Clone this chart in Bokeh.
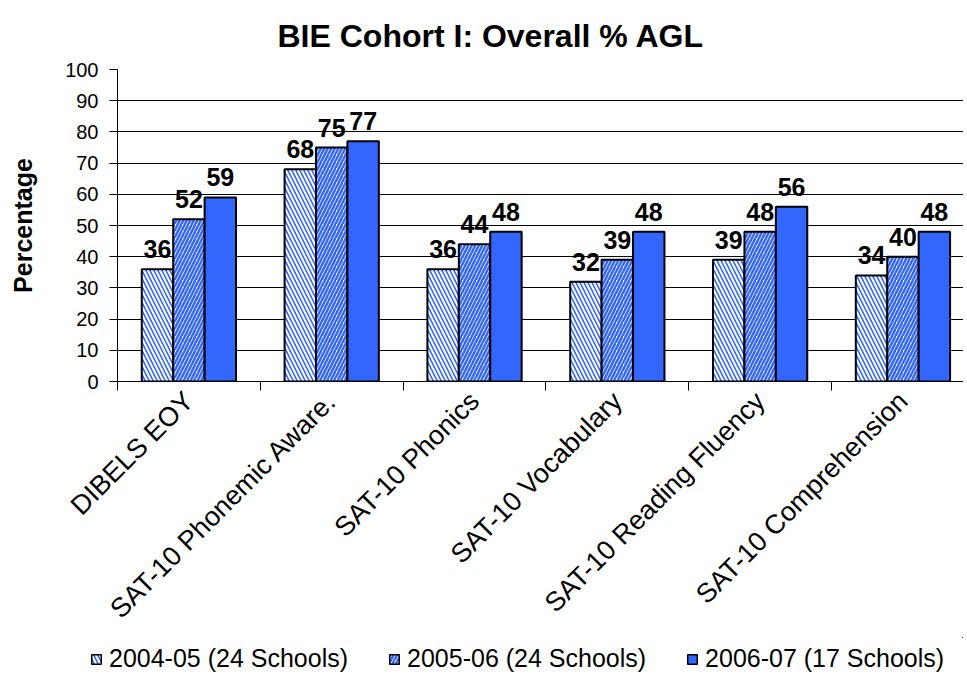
import math
from bokeh.plotting import figure
from bokeh.models import Range1d, FixedTicker, Legend, LegendItem, ColumnDataSource
from bokeh.core.properties import value
from bokeh.embed import file_html
from bokeh.resources import INLINE

# ---- data ----
title_text = "BIE Cohort I: Overall % AGL"
y_label = "Percentage"
categories = ["DIBELS EOY", "SAT-10 Phonemic Aware.", "SAT-10 Phonics",
              "SAT-10 Vocabulary", "SAT-10 Reading Fluency", "SAT-10 Comprehension"]
series_names = ["2004-05 (24 Schools)", "2005-06 (24 Schools)", "2006-07 (17 Schools)"]
v0405 = [36, 68, 36, 32, 39, 34]
v0506 = [52, 75, 44, 39, 48, 40]
v0607 = [59, 77, 48, 48, 56, 48]
y_ticks = [0, 10, 20, 30, 40, 50, 60, 70, 80, 90, 100]

FONT = "Liberation Sans"
BLUE = "#3366FF"
BAR_W = 0.22

centers = [i + 0.5 for i in range(len(categories))]

p = figure(frame_width=846, frame_height=312, output_backend="svg", toolbar_location=None,
           x_range=Range1d(0, 5.924), y_range=Range1d(0, 100),
           min_border_left=117, min_border_right=0, min_border_top=68,
           min_border_bottom=0)
p.outline_line_color = None
p.background_fill_color = "white"
p.border_fill_color = "white"

p.title.text = title_text
p.title.text_font = FONT
p.title.text_font_size = "32px"
p.title.text_font_style = "bold"
p.title.text_color = "black"
p.title.align = "left"
p.title.offset = 160
p.title.standoff = 31

# grid
p.xgrid.visible = False
p.ygrid.ticker = FixedTicker(ticks=y_ticks)
p.ygrid.grid_line_color = "black"
p.ygrid.grid_line_width = 1

# y axis
ya = p.yaxis[0]
ya.ticker = FixedTicker(ticks=y_ticks)
ya.axis_label = y_label
ya.axis_label_text_font = FONT
ya.axis_label_text_font_size = "25px"
ya.axis_label_text_font_style = "bold"
ya.axis_label_text_color = "black"
ya.axis_label_standoff = 25
ya.major_label_text_font = FONT
ya.major_label_text_font_size = "20px"
ya.major_label_text_color = "black"
ya.major_label_standoff = 11
ya.major_tick_out = 8
ya.major_tick_in = 0
ya.minor_tick_line_color = None
ya.axis_line_color = "black"
ya.major_tick_line_color = "black"

# x axis: labels at category centres, ticks at category boundaries
xa = p.xaxis[0]
xa.ticker = FixedTicker(ticks=centers, minor_ticks=list(range(len(categories) + 1)))
xa.major_label_overrides = {c: cat for c, cat in zip(centers, categories)}
xa.major_label_orientation = math.pi / 4
xa.major_label_text_font = FONT
xa.major_label_text_font_size = "27px"
xa.major_label_text_color = "black"
xa.major_label_standoff = 6
xa.major_tick_line_color = None
xa.major_tick_out = 0
xa.major_tick_in = 0
xa.minor_tick_line_color = "black"
xa.minor_tick_out = 9
xa.minor_tick_in = 0
xa.axis_line_color = "black"

# bars
offsets = [-BAR_W, 0.0, BAR_W]
vals = [v0405, v0506, v0607]
styles = [
    dict(fill_color="white", hatch_pattern="left_diagonal_line", hatch_color=BLUE,
         hatch_scale=8, hatch_weight=1.6),
    dict(fill_color="white", hatch_pattern="right_diagonal_line", hatch_color=BLUE,
         hatch_scale=7, hatch_weight=2.5),
    dict(fill_color=BLUE),
]
sources = []
for off, v, st in zip(offsets, vals, styles):
    src = ColumnDataSource(dict(x=[c + off for c in centers], top=v,
                                lab=[str(t) for t in v]))
    sources.append(src)
    p.vbar(x="x", top="top", bottom=0, width=BAR_W, source=src,
           line_color="black", line_width=2, **st)
    p.text(x="x", y="top", text="lab", source=src, text_align="center",
           text_baseline="alphabetic", y_offset=-20,
           text_font=value(FONT), text_font_style="bold", text_font_size="25px",
           text_color="black")

# legend strip (separate root below; its own renderers lie outside its view)
lg = figure(width=963, height=36, output_backend="svg", toolbar_location=None,
            x_axis_location=None, y_axis_location=None,
            x_range=Range1d(-20, -19), y_range=Range1d(-20, -19),
            min_border=0)
lg.outline_line_color = None
lg.grid.visible = False
items = []
for name, st, src in zip(series_names, styles, sources):
    r = lg.vbar(x="x", top="top", bottom=0, width=BAR_W, source=src,
                line_color="black", line_width=1.5, **st)
    items.append(LegendItem(label=name, renderers=[r]))
legend = Legend(items=items, orientation="horizontal", location=(90, 0),
                glyph_width=12, glyph_height=12, label_standoff=7, spacing=40,
                label_text_font=FONT, label_text_font_size="25px",
                label_text_color="black",
                border_line_color=None, background_fill_alpha=0,
                padding=0, margin=0)
lg.add_layout(legend, "center")

open("out.html", "w").write(file_html([p, lg], INLINE))
